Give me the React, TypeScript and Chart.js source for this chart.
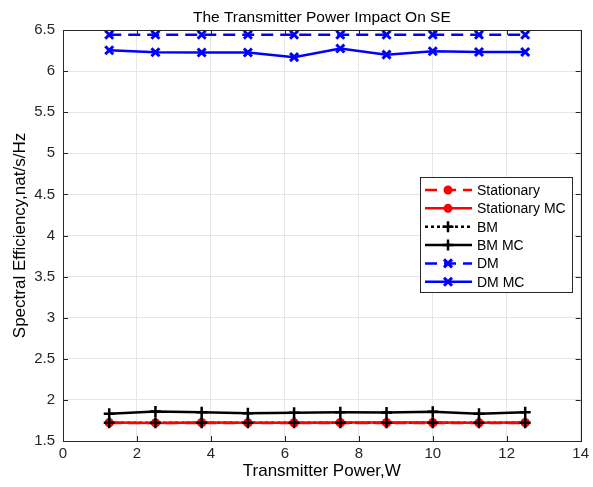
import React, { useEffect, useRef } from "react";
import { Chart, registerables } from "chart.js";

Chart.register(...registerables);

const powers = [1.25, 2.5, 3.75, 5, 6.25, 7.5, 8.75, 10, 11.25, 12.5];
const stationary = [1.72, 1.72, 1.72, 1.72, 1.72, 1.72, 1.72, 1.72, 1.72, 1.72];
const stationaryMC = [1.724, 1.72, 1.726, 1.722, 1.722, 1.726, 1.726, 1.724, 1.722, 1.726];
const bm = [1.722, 1.722, 1.722, 1.722, 1.722, 1.722, 1.722, 1.722, 1.722, 1.722];
const bmMC = [1.832, 1.86, 1.851, 1.839, 1.845, 1.851, 1.848, 1.856, 1.832, 1.851];
const dm = [6.442, 6.442, 6.442, 6.442, 6.442, 6.442, 6.442, 6.442, 6.442, 6.442];
const dmMC = [6.254, 6.23, 6.226, 6.226, 6.17, 6.275, 6.2, 6.242, 6.233, 6.233];
const seriesNames = ["Stationary", "Stationary MC", "BM", "BM MC", "DM", "DM MC"];
const xTicks = [0, 2, 4, 6, 8, 10, 12, 14];
const yTicks = [1.5, 2, 2.5, 3, 3.5, 4, 4.5, 5, 5.5, 6, 6.5];

const FONT = "'Liberation Sans', Arial, sans-serif";

type Sty = { color: string; dash: number[]; marker: string; r: number };
const styles: Sty[] = [
  { color: "#ff0000", dash: [12, 7], marker: "circle", r: 4.5 },
  { color: "#ff0000", dash: [], marker: "circle", r: 4.5 },
  { color: "#000000", dash: [3, 3], marker: "cross", r: 5.5 },
  { color: "#000000", dash: [], marker: "cross", r: 5.5 },
  { color: "#0000ff", dash: [12, 7], marker: "crossRot", r: 4 },
  { color: "#0000ff", dash: [], marker: "crossRot", r: 4 },
];

function drawMarker(ctx: CanvasRenderingContext2D, s: Sty, x: number, y: number) {
  ctx.save();
  ctx.setLineDash([]);
  ctx.strokeStyle = s.color;
  ctx.fillStyle = s.color;
  ctx.lineWidth = s.marker === "crossRot" ? 3 : 2.5;
  ctx.beginPath();
  if (s.marker === "circle") {
    ctx.arc(x, y, s.r, 0, Math.PI * 2);
    ctx.fill();
  } else if (s.marker === "cross") {
    ctx.moveTo(x - s.r, y);
    ctx.lineTo(x + s.r, y);
    ctx.moveTo(x, y - s.r);
    ctx.lineTo(x, y + s.r);
    ctx.stroke();
  } else {
    ctx.moveTo(x - s.r, y - s.r);
    ctx.lineTo(x + s.r, y + s.r);
    ctx.moveTo(x - s.r, y + s.r);
    ctx.lineTo(x + s.r, y - s.r);
    ctx.stroke();
  }
  ctx.restore();
}

const frame = {
  id: "frame",
  afterDatasetsDraw(chart: any) {
    const ctx = chart.ctx as CanvasRenderingContext2D;
    const { left, right, top, bottom } = chart.chartArea;
    const xs = chart.scales.x;
    const ys = chart.scales.y;
    ctx.save();
    chart.data.datasets.forEach((ds: any, i: number) => {
      const s = styles[i];
      ds.data.forEach((p: any) => {
        drawMarker(ctx, s, xs.getPixelForValue(p.x), ys.getPixelForValue(p.y));
      });
    });
    ctx.strokeStyle = "#262626";
    ctx.lineWidth = 1;
    ctx.setLineDash([]);
    ctx.strokeRect(Math.round(left) + 0.5, Math.round(top) + 0.5, Math.round(right - left), Math.round(bottom - top));
    ctx.beginPath();
    xTicks.forEach((v) => {
      const px = Math.round(xs.getPixelForValue(v)) + 0.5;
      ctx.moveTo(px, bottom);
      ctx.lineTo(px, bottom - 5);
      ctx.moveTo(px, top);
      ctx.lineTo(px, top + 5);
    });
    yTicks.forEach((v) => {
      const py = Math.round(ys.getPixelForValue(v)) + 0.5;
      ctx.moveTo(left, py);
      ctx.lineTo(left + 5, py);
      ctx.moveTo(right, py);
      ctx.lineTo(right - 5, py);
    });
    ctx.stroke();
    ctx.fillStyle = "#000";
    ctx.font = `15.5px ${FONT}`;
    ctx.textAlign = "center";
    ctx.textBaseline = "middle";
    ctx.fillText("The Transmitter Power Impact On SE", (left + right) / 2, 18);
    const lx = 420, ly = 177, lw = 152, lh = 115;
    ctx.fillStyle = "#fff";
    ctx.fillRect(lx, ly, lw, lh);
    ctx.strokeStyle = "#262626";
    ctx.lineWidth = 1;
    ctx.strokeRect(lx + 0.5, ly + 0.5, lw, lh);
    ctx.font = `14px ${FONT}`;
    ctx.textAlign = "left";
    seriesNames.forEach((name, i) => {
      const s = styles[i];
      const y = ly + 13 + i * 18.35;
      ctx.strokeStyle = s.color;
      ctx.lineWidth = 2.5;
      ctx.setLineDash(s.dash);
      ctx.beginPath();
      ctx.moveTo(lx + 5, y);
      ctx.lineTo(lx + 52, y);
      ctx.stroke();
      drawMarker(ctx, s, lx + 28, y);
      ctx.fillStyle = "#000";
      ctx.fillText(name, lx + 57, y + 1);
    });
    ctx.restore();
  },
};

export default function App() {
  const ref = useRef<HTMLCanvasElement>(null);
  useEffect(() => {
    const all = [stationary, stationaryMC, bm, bmMC, dm, dmMC];
    const chart = new Chart(ref.current!, {
      type: "line",
      data: {
        datasets: all.map((arr, i) => ({
          label: seriesNames[i],
          data: arr.map((v, j) => ({ x: powers[j], y: v })),
          borderColor: styles[i].color,
          borderDash: styles[i].dash,
          borderWidth: 2.5,
          pointRadius: 0,
          fill: false,
          tension: 0,
        })),
      },
      options: {
        animation: false,
        responsive: false,
        devicePixelRatio: 1,
        layout: { padding: { top: 30, right: 9, left: 0, bottom: 0 } },
        plugins: { legend: { display: false }, tooltip: { enabled: false } },
        scales: {
          x: {
            type: "linear",
            min: 0,
            max: 14,
            afterBuildTicks: (s: any) => { s.ticks = xTicks.map((v) => ({ value: v })); },
            afterFit: (s: any) => { s.height = 46; },
            grid: { color: "#e6e6e6", drawTicks: false },
            border: { display: false },
            ticks: { color: "#262626", font: { family: FONT, size: 15 }, padding: 4, maxRotation: 0, callback: (v: any) => String(v) },
            title: { display: true, text: "Transmitter Power,W", color: "#000", font: { family: FONT, size: 17 }, padding: { top: 0, bottom: 5 } },
          },
          y: {
            type: "linear",
            min: 1.5,
            max: 6.5,
            afterBuildTicks: (s: any) => { s.ticks = yTicks.map((v) => ({ value: v })); },
            afterFit: (s: any) => { s.width = 63; },
            grid: { color: "#e6e6e6", drawTicks: false },
            border: { display: false },
            ticks: { color: "#262626", font: { family: FONT, size: 15 }, padding: 8, callback: (v: any) => String(v) },
            title: { display: true, text: "Spectral Efficiency,nat/s/Hz", color: "#000", font: { family: FONT, size: 17 }, padding: { top: 10, bottom: 0 } },
          },
        },
      },
      plugins: [frame],
    } as any);
    return () => chart.destroy();
  }, []);
  return (
    <div style={{ position: "fixed", left: 0, top: 0, width: 593, height: 487, background: "#fff" }}>
      <canvas ref={ref} width={593} height={487} />
    </div>
  );
}
